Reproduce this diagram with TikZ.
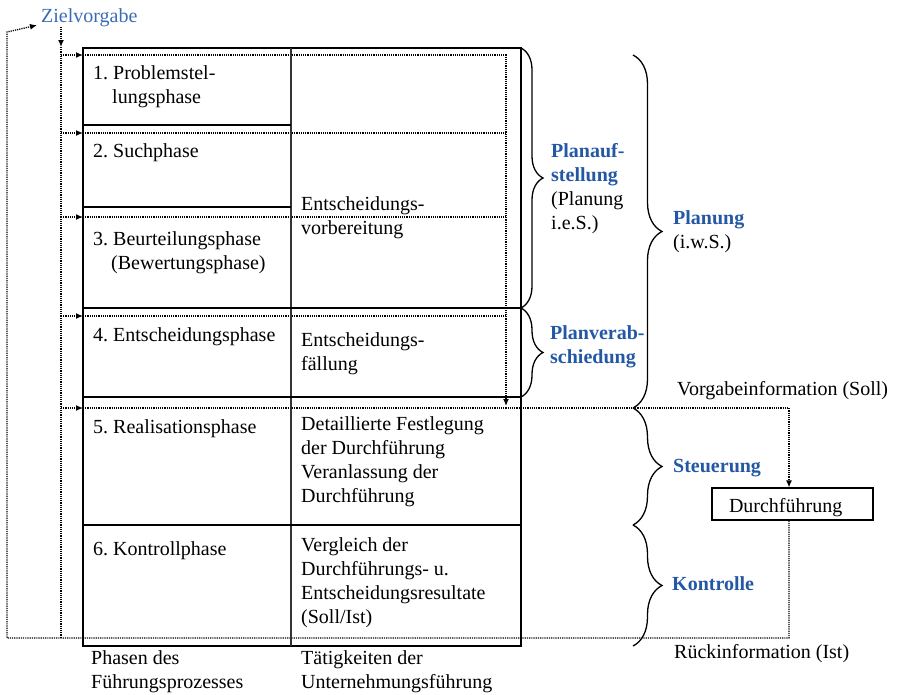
\documentclass[tikz,border=0pt]{standalone}
\usepackage{fontspec}
\setmainfont{Liberation Serif}
\usetikzlibrary{arrows.meta,decorations.pathreplacing,calc}
\definecolor{headblue}{RGB}{36,88,164}
\definecolor{goalblue}{RGB}{58,108,182}
\newcommand\headword[1]{\textcolor{headblue}{\bfseries #1}}

\begin{document}
\frenchspacing
\begin{tikzpicture}[x=1pt,y=-1pt,
  font=\fontsize{20}{24}\selectfont,
  cell/.style={anchor=north west, inner sep=0pt, align=left,
    execute at begin node=\rule{0pt}{15pt}},
  frame/.style={line width=2pt},
  rule/.style={line width=1.4pt},
  info/.style={line width=1.3pt, dash pattern=on 1.2pt off 1pt},
  infoarrow/.style={info, -{Latex[length=7pt,width=6pt]}},
  curly/.style={decorate, decoration={brace, amplitude=#1}, line width=1.3pt},
]
\useasboundingbox (0,0) rectangle (899,694);

% goal input
\node[cell, text=goalblue] (zv) at (41,7) {Zielvorgabe};

% execution box
\node[draw, line width=1.1pt, minimum width=161pt, minimum height=32pt,
      text width=127pt, inner xsep=17pt, align=left,
      text height=17pt, text depth=1pt] (df) at (792.5,504) {Durchführung};

\coordinate (bus) at (61,0);
\coordinate (vx) at (789,0);

% information flows
\draw[infoarrow] (zv.south -| bus) -- (61,47);
\draw[info] (61,47) -- (61,638);
\foreach \y in {55,133,217,316,408}
  \draw[infoarrow] (61,\y) -- (83,\y);
\foreach \y in {133,217,316}
  \draw[info] (83,\y) -- (506,\y);
\draw[infoarrow] (83,55) -- (506,55) -- (506,406);
\draw[infoarrow] (83,408) -- (789,408) -- (vx |- df.north);
\draw[infoarrow] (vx |- df.south) -- (789,638) -- (7,638) -- (7,32)
  -- ($(zv.base west)+(-4,3)$);

% process table
\draw[frame] (83,48) rectangle (521,646);
\draw[rule, black!80] (291,48) -- (291,646);
\draw[rule] (83,125) -- (291,125);
\draw[rule] (83,207) -- (291,207);
\draw[rule] (83,308) -- (521,308);
\draw[rule] (83,397) -- (521,397);
\draw[rule] (83,525) -- (521,525);

% phases
\node[cell] (p1) at (93,65) {1. Problemstel-\\\hspace*{19pt}lungsphase};
\node[cell] (p2) at (93,142) {2. Suchphase};
\node[cell] (p3) at (93,231) {3. Beurteilungsphase\\\hspace*{18pt}(Bewertungsphase)};
\node[cell] (p4) at (93,326) {4. Entscheidungsphase};
\node[cell] (p5) at (93,418) {5. Realisationsphase};
\node[cell] (p6) at (93,540) {6. Kontrollphase};

% activities
\node[cell] (a1) at (301,196) {Entscheidungs-\\vorbereitung};
\node[cell] (a2) at (301,332) {Entscheidungs-\\fällung};
\node[cell] (a3) at (301,416) {Detaillierte Festlegung\\der Durchführung\\Veranlassung der\\Durchführung};
\node[cell] (a4) at (301,537) {Vergleich der\\Durchführungs- u.\\Entscheidungsresultate\\(Soll/Ist)};

% column captions
\node[cell] (c1) at (91,650) {Phasen des\\Führungsprozesses};
\node[cell] (c2) at (301,650) {Tätigkeiten der\\Unternehmungsführung};

% braces
\draw[curly=22pt] (521,48) -- (521,308);
\draw[curly=22pt] (521,308) -- (521,397);
\draw[curly=29pt] (633,55) -- (633,408);
\draw[curly=29pt] (633,408) -- (633,525);
\draw[curly=29pt] (633,525) -- (633,646);

% brace labels
\node[cell] (b1) at (551,143) {\headword{Planauf-}\\\headword{stellung}\\(Planung\\i.e.S.)};
\node[cell] (b2) at (550,325) {\headword{Planverab-}\\\headword{schiedung}};
\node[cell] (b3) at (673,210) {\headword{Planung}\\(i.w.S.)};
\node[cell] (vg) at (677,380) {Vorgabeinformation (Soll)};
\node[cell] (st) at (673,457) {\headword{Steuerung}};
\node[cell] (ko) at (672,575) {\headword{Kontrolle}};
\node[cell] (ri) at (674,643) {Rückinformation (Ist)};
\end{tikzpicture}
\end{document}
